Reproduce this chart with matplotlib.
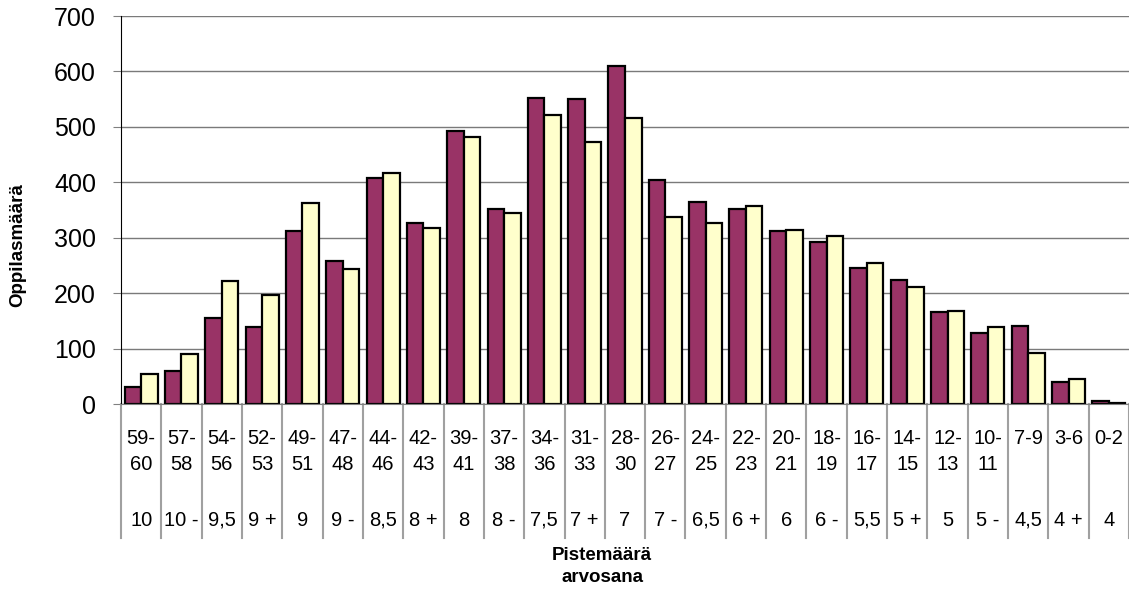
import matplotlib.pyplot as plt
import numpy as np

plt.rcParams['font.family'] = ['Liberation Sans', 'DejaVu Sans']

# point ranges (top label row) and grades (bottom label row)
ranges = ["59-\n60", "57-\n58", "54-\n56", "52-\n53", "49-\n51", "47-\n48",
          "44-\n46", "42-\n43", "39-\n41", "37-\n38", "34-\n36", "31-\n33",
          "28-\n30", "26-\n27", "24-\n25", "22-\n23", "20-\n21", "18-\n19",
          "16-\n17", "14-\n15", "12-\n13", "10-\n11", "7-9", "3-6", "0-2"]
grades = ["10", "10 -", "9,5", "9 +", "9", "9 -", "8,5", "8 +", "8", "8 -",
          "7,5", "7 +", "7", "7 -", "6,5", "6 +", "6", "6 -", "5,5", "5 +",
          "5", "5 -", "4,5", "4 +", "4"]

series_a = [31, 60, 156, 139, 312, 258, 408, 326, 492, 352, 552, 551, 610,
            404, 364, 351, 312, 293, 246, 224, 166, 128, 141, 39, 6]
series_b = [54, 91, 222, 197, 362, 243, 417, 317, 482, 345, 521, 472, 516,
            337, 326, 358, 314, 303, 255, 211, 167, 139, 92, 45, 1]

W, H = 1129, 590
fig = plt.figure(figsize=(W / 100, H / 100), dpi=100)
ax = fig.add_axes([121 / W, 1 - 404 / H, 1008 / W, 388 / H])

x = np.arange(len(ranges))
bw = 0.41
ax.bar(x - bw / 2, series_a, bw, color='#993366', edgecolor='black',
       linewidth=1.6, zorder=3)
ax.bar(x + bw / 2, series_b, bw, color='#FFFFCC', edgecolor='black',
       linewidth=1.6, zorder=3)

ax.set_xlim(-0.5, len(ranges) - 0.5)
ax.set_ylim(0, 700)
ax.set_yticks(range(0, 701, 100))
ax.yaxis.grid(True, color='#7a7a7a', linewidth=1.0, zorder=0)
ax.tick_params(axis='y', labelsize=18, length=6, color='#808080', pad=12)
ax.set_xticks([])

for s in ['top', 'right']:
    ax.spines[s].set_visible(False)
ax.spines['left'].set_color('black')
ax.spines['bottom'].set_color('#808080')
ax.spines['bottom'].set_zorder(4)

# two-level category axis with separators
tr = ax.get_xaxis_transform()
for i in range(len(ranges) + 1):
    ax.plot([i - 0.5, i - 0.5], [0, -134 / 388], color='#a0a0a0',
            linewidth=1.5, transform=tr, clip_on=False)
line_y = [-35 / 388, -60 / 388]
for i in x:
    for k, part in enumerate(ranges[i].split('\n')):
        ax.text(i, line_y[k], part, transform=tr, ha='center',
                va='center', fontsize=14.5)
    ax.text(i, -116.5 / 388, grades[i], transform=tr, ha='center',
            va='center', fontsize=14.5)

fig.text(602 / W, 1 - 560 / H, 'Pistemäärä', ha='center', va='baseline',
         fontsize=13.5, fontweight='bold')
fig.text(602 / W, 1 - 582 / H, 'arvosana', ha='center', va='baseline',
         fontsize=13.5, fontweight='bold')
fig.text(18 / W, 1 - 245 / H, 'Oppilasmäärä', rotation=90, ha='center',
         va='center', fontsize=13.5, fontweight='bold')

fig.savefig('out.png', dpi=100)
